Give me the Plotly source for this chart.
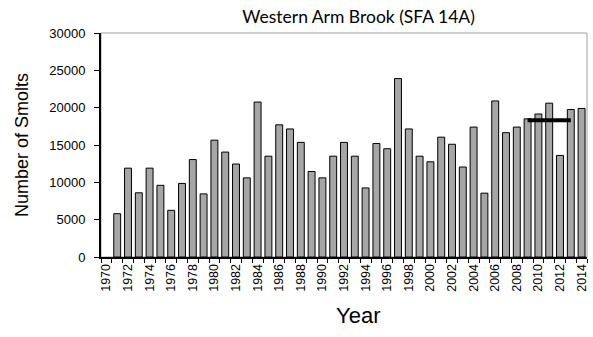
import plotly.graph_objects as go

years = list(range(1971, 2015))
smolts = [5800, 11900, 8600, 11900, 9600, 6250, 9850, 13050, 8450, 15650,
          14050, 12450, 10600, 20750, 13500, 17700, 17150, 15350, 11450, 10600,
          13500, 15350, 13500, 9250, 15200, 14500, 23900, 17150, 13500, 12750,
          16050, 15100, 12050, 17400, 8550, 20900, 16650, 17400, 18500, 19150,
          20600, 13600, 19750, 19900]
line_years = [2009, 2013]
line_values = [18300, 18300]
tick_years = list(range(1970, 2015, 2))
y_ticks = [0, 5000, 10000, 15000, 20000, 25000, 30000]

fig = go.Figure()
fig.add_trace(go.Bar(x=years, y=smolts, marker=dict(color="#a6a6a6", line=dict(color="black", width=1)),
                     width=0.64, showlegend=False))
fig.add_trace(go.Scatter(x=line_years, y=line_values, mode="lines",
                         line=dict(color="black", width=4), showlegend=False))

fig.add_shape(type="rect", xref="paper", yref="paper", x0=0, x1=1, y0=0, y1=1,
              line=dict(color="#a0a0a0", width=1), layer="below")

fig.add_annotation(text="Year", xref="paper", yref="paper", x=0.529, y=-0.263,
                   xanchor="center", yanchor="middle", showarrow=False,
                   font=dict(family="Arial", size=22, color="black"))

fig.update_layout(
    width=593, height=337,
    margin=dict(l=101, r=4, t=33, b=80),
    plot_bgcolor="white", paper_bgcolor="white",
    font=dict(family="Arial", color="black", size=13),
    title=dict(text="Western Arm Brook (SFA 14A)", x=0.53, xanchor="center", xref="paper",
               y=0.95, yanchor="middle",
               font=dict(family="Lato", size=17.5, color="black")),
    bargap=0.35,
)
fig.update_xaxes(
    range=[1969.5, 2014.5], tickvals=tick_years, ticktext=[str(y) for y in tick_years],
    tickangle=-90, ticks="", showgrid=False, zeroline=False,
    showline=True, linecolor="black", linewidth=2,
    tickfont=dict(family="Arial", size=12.5),
    minor=dict(tickvals=[y + 0.5 for y in range(1969, 2015)], ticks="outside", ticklen=4,
               tickcolor="black", tickwidth=1, showgrid=False),
)
fig.update_yaxes(
    range=[0, 30000], tickvals=y_ticks, ticktext=[str(v) for v in y_ticks],
    ticks="outside", ticklen=5, tickcolor="black", ticklabelstandoff=6,
    showgrid=False, zeroline=False, showline=True, linecolor="black", linewidth=2,
    tickfont=dict(family="Arial", size=13),
    title=dict(text="Number of Smolts", font=dict(family="Arial", size=18), standoff=16),
)
fig.write_html("out.html")
